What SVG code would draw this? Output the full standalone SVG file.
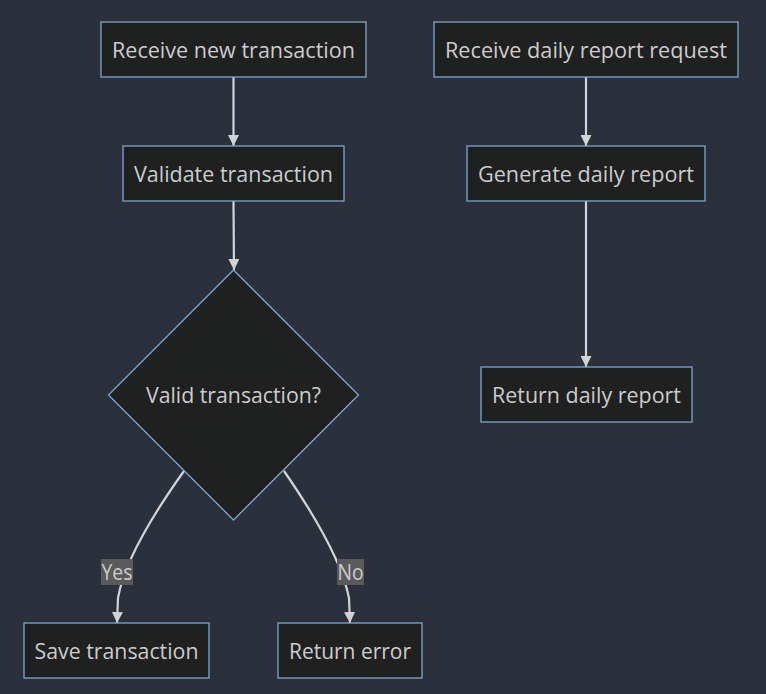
<svg xmlns="http://www.w3.org/2000/svg" width="766" height="694" viewBox="0 0 766 694">
<defs>
<style>
.node{fill:#1f2020;stroke:#7ea6cf;stroke-width:1.3}
.lbl{font-family:"Open Sans","DejaVu Sans",sans-serif;font-size:21px;fill:#cccccc;text-anchor:middle;dominant-baseline:central}
.edge{fill:none;stroke:#d3d3d3;stroke-width:2.2}
.elbl{fill:#5a5a5a}
</style>
<marker id="arr" viewBox="0 0 10 10" refX="10" refY="5" markerWidth="5" markerHeight="5" orient="auto" markerUnits="strokeWidth">
<path d="M0,0 L10,5 L0,10 z" fill="#d3d3d3"/>
</marker>
</defs>
<rect width="766" height="694" fill="#2a303c"/>
<g id="connectors">
<path class="edge" d="M233.5,77 L233.5,146" marker-end="url(#arr)"/>
<path class="edge" d="M233.5,201 L234,270" marker-end="url(#arr)"/>
<path class="edge" d="M184,471 Q126,552 118,598 L117,623" marker-end="url(#arr)"/>
<path class="edge" d="M284,471 Q340,552 349,598 L350,623" marker-end="url(#arr)"/>
<path class="edge" d="M586,77 L586,146" marker-end="url(#arr)"/>
<path class="edge" d="M586,201 L586,367" marker-end="url(#arr)"/>
<g id="label-yes">
<rect class="elbl" x="101" y="559" width="32" height="26"/>
<text class="lbl" x="117" y="572" textLength="31" lengthAdjust="spacingAndGlyphs">Yes</text>
</g>
<g id="label-no">
<rect class="elbl" x="337" y="559" width="27" height="26"/>
<text class="lbl" x="350.5" y="572" textLength="26" lengthAdjust="spacingAndGlyphs">No</text>
</g>
</g>
<g id="receive-tx">
<rect class="node" x="101" y="22" width="265" height="55"/>
<text class="lbl" x="233.5" y="49.5" textLength="243" lengthAdjust="spacingAndGlyphs">Receive new transaction</text>
</g>
<g id="validate-tx">
<rect class="node" x="123" y="146" width="221" height="55"/>
<text class="lbl" x="233.5" y="173.5" textLength="199" lengthAdjust="spacingAndGlyphs">Validate transaction</text>
</g>
<g id="valid-decision">
<polygon class="node" points="233.5,270 358.5,395 233.5,520 108.5,395"/>
<text class="lbl" x="233.5" y="395" textLength="175" lengthAdjust="spacingAndGlyphs">Valid transaction?</text>
</g>
<g id="save-tx">
<rect class="node" x="24" y="623" width="185" height="55"/>
<text class="lbl" x="116.5" y="650.5" textLength="164" lengthAdjust="spacingAndGlyphs">Save transaction</text>
</g>
<g id="return-error">
<rect class="node" x="278" y="623" width="144" height="55"/>
<text class="lbl" x="350" y="650.5" textLength="122" lengthAdjust="spacingAndGlyphs">Return error</text>
</g>
<g id="receive-report">
<rect class="node" x="434" y="22" width="304" height="55"/>
<text class="lbl" x="586" y="49.5" textLength="282" lengthAdjust="spacingAndGlyphs">Receive daily report request</text>
</g>
<g id="generate-report">
<rect class="node" x="467" y="146" width="238" height="55"/>
<text class="lbl" x="586" y="173.5" textLength="216" lengthAdjust="spacingAndGlyphs">Generate daily report</text>
</g>
<g id="return-report">
<rect class="node" x="481" y="367" width="211" height="55"/>
<text class="lbl" x="586.5" y="394.5" textLength="189" lengthAdjust="spacingAndGlyphs">Return daily report</text>
</g>
</svg>
